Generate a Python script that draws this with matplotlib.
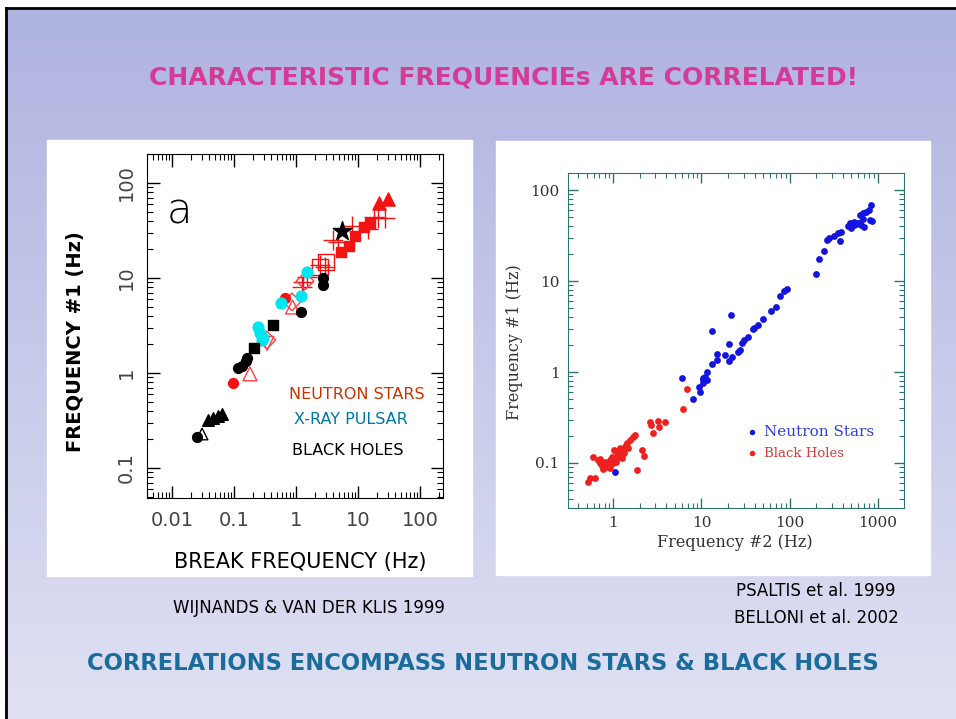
import numpy as np
import matplotlib.pyplot as plt
from matplotlib.patches import Rectangle
from matplotlib.ticker import FixedLocator, FuncFormatter, LogLocator, NullFormatter

W, H = 956, 719  # 그림 크기 (픽셀)

# ---- 왼쪽 그림 데이터 (Wijnands & van der Klis 1999) ----
ns_sq_x = [5.3, 7.2, 9.0, 12.5, 15.6]
ns_sq_y = [18.8, 21.7, 27.7, 34.4, 37.9]
ns_tri_x = [21.8, 30.5]
ns_tri_y = [61.5, 68.0]
ns_cross_x = [18.1, 21.0, 27.2, 14.5, 8.0, 4.75, 3.95, 2.44, 2.94, 1.50, 1.30, 1.25]
ns_cross_y = [43.9, 42.8, 42.8, 33.0, 35.2, 23.9, 25.1, 13.7, 13.1, 10.2, 9.1, 8.0]
ns_osq_x = [2.44, 3.05]
ns_osq_y = [13.1, 14.7]
ns_dot_x = [0.67, 0.096]
ns_dot_y = [6.2, 0.79]
ns_odiam_x = [0.86, 0.34, 1.4]
ns_odiam_y = [5.6, 2.22, 9.3]
ns_otri_x = [0.88, 0.181]
ns_otri_y = [4.95, 0.98]
ns_vtri_x = [0.34]
ns_vtri_y = [2.05]
pulsar_x = [1.50, 1.2, 0.57, 0.244, 0.26, 0.29, 0.28]
pulsar_y = [11.6, 6.5, 5.5, 3.05, 2.64, 2.34, 2.2]
bh_dot_x = [2.72, 2.72, 1.2, 0.116, 0.135, 0.156, 0.162, 0.0253]
bh_dot_y = [10.0, 8.4, 4.4, 1.13, 1.19, 1.34, 1.44, 0.212]
bh_sq_x = [0.425, 0.21]
bh_sq_y = [3.2, 1.83]
bh_tri_x = [0.038, 0.046, 0.055, 0.064]
bh_tri_y = [0.32, 0.336, 0.352, 0.37]
bh_otri_x = [0.0305]
bh_otri_y = [0.228]
bh_star_x = [5.5]
bh_star_y = [31.0]

# ---- 오른쪽 그림 데이터 (Psaltis 1999, Belloni 2002) ----
ns2_x = [832, 790, 731, 676, 676, 855, 811, 624, 593, 534, 534, 493, 456, 481, 562,
         608, 641, 693, 380, 351, 316, 370, 277, 263, 243, 214, 197, 92.4, 85.5, 77,
         69.3, 60.8, 49.3, 43.3, 39, 38, 33.3, 30, 29.2, 27.7, 26.3, 21.9, 20.3, 22.5, 20.8,
         18.3, 15.2, 15.2, 13.3, 13.3, 11.7, 10.3, 11.1, 6.08, 8.11, 9.75, 9.49, 10.3, 10.5,
         11.7, 1.05]
ns2_y = [68.3, 60.3, 57.3, 55.8, 48, 45.6, 46.8, 53.1, 43.4, 44.5, 41.2, 38.2, 40.2, 43.4, 42.3,
         43.4, 41.2, 39.2, 34.5, 33.7, 31.2, 27.6, 29.7, 28.2, 21.4, 17.5, 11.9, 8.17, 7.76, 6.84,
         5.17, 4.68, 3.82, 3.28, 3.05, 2.97, 2.43, 2.25, 2.08, 1.75, 1.66, 4.23, 2.03, 1.46, 1.32,
         1.54, 1.58, 1.36, 2.82, 1.22, 1.0, 0.86, 0.88, 0.86, 0.505, 0.603, 0.684, 0.757, 0.817,
         0.817, 0.0796]
bh2_x = [0.520, 0.548, 0.624, 0.593, 0.676, 0.711, 0.750, 0.769, 0.832, 0.877, 0.925, 0.925,
         1.0, 1.05, 1.11, 1.14, 1.20, 1.27, 1.30, 1.37, 1.44, 1.56, 1.69, 1.78, 1.33, 1.48,
         1.03, 1.17, 1.87, 2.14, 2.25, 2.63, 2.70, 2.85, 3.25, 3.33, 3.90, 6.24, 6.93, 0.81,
         0.97, 1.08, 1.23, 1.40, 0.71]
bh2_y = [0.0618, 0.0684, 0.0684, 0.116, 0.108, 0.100, 0.0927, 0.0859, 0.0903, 0.0951, 0.108,
         0.0881, 0.100, 0.108, 0.122, 0.132, 0.146, 0.113, 0.139, 0.150, 0.166, 0.179, 0.193,
         0.203, 0.129, 0.146, 0.139, 0.116, 0.0838, 0.139, 0.119, 0.282, 0.262, 0.214, 0.290,
         0.249, 0.282, 0.392, 0.650, 0.103, 0.116, 0.103, 0.132, 0.158, 0.112]

left_xticks = [0.01, 0.1, 1, 10, 100]
left_yticks = [0.1, 1, 10, 100]
right_xticks = [1, 10, 100, 1000]
right_yticks = [0.1, 1, 10, 100]


def fig_box(x0, y0, x1, y1):  # 픽셀 좌표 -> figure 비율 [left, bottom, width, height]
    return [x0 / W, 1 - y1 / H, (x1 - x0) / W, (y1 - y0) / H]


fmt = FuncFormatter(lambda v, p: '%g' % v)

fig = plt.figure(figsize=(W / 100, H / 100), dpi=100)
fig.patch.set_facecolor('white')

# ---- 슬라이드 배경 ----
bg = fig.add_axes([0, 0, 1, 1])
grad = np.linspace(0, 1, 256)[:, None, None]
top = np.array([175, 179, 224]) / 255
bot = np.array([223, 225, 243]) / 255
bg.imshow(top + (bot - top) * grad, extent=(6, W, H, 8), aspect='auto')
bg.plot([6, 6], [8, H], color='black', lw=2)
bg.plot([6, W], [8, 8], color='black', lw=2)
bg.add_patch(Rectangle((47, 140), 425, 436, color='white'))
bg.add_patch(Rectangle((496, 141), 434, 434, color='white'))
bg.set_xlim(0, W)
bg.set_ylim(H, 0)
bg.axis('off')

bg.text(504, 77, "CHARACTERISTIC FREQUENCIEs ARE CORRELATED!", ha='center', va='center',
        fontsize=18, fontweight='bold', color='#d43b98')
bg.text(483, 663, "CORRELATIONS ENCOMPASS NEUTRON STARS & BLACK HOLES", ha='center', va='center',
        fontsize=16.3, fontweight='bold', color='#1a6d9b')
bg.text(309, 608, "WIJNANDS & VAN DER KLIS 1999", ha='center', va='center', fontsize=12)
bg.text(816, 591, "PSALTIS et al. 1999", ha='center', va='center', fontsize=12)
bg.text(816, 618, "BELLONI et al. 2002", ha='center', va='center', fontsize=12)

# ---- 왼쪽 그림 ----
ax1 = fig.add_axes(fig_box(147, 154, 443, 498))
ax1.set_xscale('log')
ax1.set_yscale('log')
red = '#f21212'
ax1.scatter(ns_cross_x, ns_cross_y, marker='+', s=200, color=red, linewidths=1, zorder=3)
ax1.scatter(ns_osq_x, ns_osq_y, marker='s', s=130, facecolors='none', edgecolors=red, linewidths=1, zorder=3)
ax1.scatter(ns_odiam_x, ns_odiam_y, marker='D', s=80, facecolors='none', edgecolors='#ff4040', linewidths=1, zorder=3)
ax1.scatter(ns_otri_x, ns_otri_y, marker='^', s=100, facecolors='none', edgecolors='#ff4040', linewidths=1, zorder=3)
ax1.scatter(ns_vtri_x, ns_vtri_y, marker='v', s=100, facecolors='none', edgecolors='#ff4040', linewidths=1, zorder=3)
ax1.scatter(ns_sq_x, ns_sq_y, marker='s', s=50, color=red, zorder=4)
ax1.scatter(ns_tri_x, ns_tri_y, marker='^', s=90, color=red, zorder=4)
ax1.scatter(ns_dot_x, ns_dot_y, marker='o', s=50, color=red, zorder=4)
ax1.scatter(pulsar_x, pulsar_y, marker='o', s=60, color='#00e6f0', zorder=4)
ax1.scatter(bh_dot_x, bh_dot_y, marker='o', s=50, color='black', zorder=4)
ax1.scatter(bh_sq_x, bh_sq_y, marker='s', s=45, color='black', zorder=4)
ax1.scatter(bh_tri_x, bh_tri_y, marker='^', s=70, color='black', zorder=4)
ax1.scatter(bh_otri_x, bh_otri_y, marker='^', s=70, facecolors='none', edgecolors='black', linewidths=1, zorder=4)
ax1.scatter(bh_star_x, bh_star_y, marker='*', s=200, color='black', zorder=5)

ax1.set_xlim(0.00395, 235)
ax1.set_ylim(0.0483, 202)
ax1.xaxis.set_major_locator(FixedLocator(left_xticks))
ax1.yaxis.set_major_locator(FixedLocator(left_yticks))
ax1.xaxis.set_minor_locator(LogLocator(base=10, subs=np.arange(2, 10)))
ax1.yaxis.set_minor_locator(LogLocator(base=10, subs=np.arange(2, 10)))
ax1.xaxis.set_major_formatter(fmt)
ax1.yaxis.set_major_formatter(fmt)
ax1.xaxis.set_minor_formatter(NullFormatter())
ax1.yaxis.set_minor_formatter(NullFormatter())
ax1.tick_params(which='both', direction='in', top=True, right=True, color='black')
ax1.tick_params(which='major', length=9, width=1, labelsize=14, labelcolor='#444444')
ax1.tick_params(which='minor', length=4.5, width=0.8)
ax1.tick_params(axis='x', pad=9)
ax1.tick_params(axis='y', pad=8, labelrotation=90)
for t in ax1.get_yticklabels():
    t.set_va('center')

ax1.set_xlabel("BREAK FREQUENCY (Hz)", fontsize=15, va='center')
ax1.xaxis.set_label_coords(0.517, -0.186)
ax1.set_ylabel("FREQUENCY #1 (Hz)", fontsize=14, fontweight='bold', va='center')
ax1.yaxis.set_label_coords(-0.243, 0.456)

ax1.text(0.111, 0.834, "a", transform=ax1.transAxes, fontsize=30, fontweight='light',
         ha='center', va='center')
ax1.text(0.709, 0.302, "NEUTRON STARS", transform=ax1.transAxes, fontsize=11.5,
         color='#cc3300', ha='center', va='center')
ax1.text(0.689, 0.227, "X-RAY PULSAR", transform=ax1.transAxes, fontsize=11.5,
         color='#0077aa', ha='center', va='center')
ax1.text(0.679, 0.137, "BLACK HOLES", transform=ax1.transAxes, fontsize=11.5,
         color='black', ha='center', va='center')

# ---- 오른쪽 그림 ----
ax2 = fig.add_axes(fig_box(568, 173, 904, 508))
ax2.set_xscale('log')
ax2.set_yscale('log')
h1 = ax2.scatter(ns2_x, ns2_y, s=24, color='#1414e0', linewidths=0, label='Neutron Stars')
h2 = ax2.scatter(bh2_x, bh2_y, s=24, color='#ee2020', linewidths=0, label='Black Holes')
ax2.set_xlim(0.308, 1973)
ax2.set_ylim(0.032, 154)
ax2.xaxis.set_major_locator(FixedLocator(right_xticks))
ax2.yaxis.set_major_locator(FixedLocator(right_yticks))
ax2.xaxis.set_minor_locator(LogLocator(base=10, subs=np.arange(2, 10)))
ax2.yaxis.set_minor_locator(LogLocator(base=10, subs=np.arange(2, 10)))
ax2.xaxis.set_major_formatter(fmt)
ax2.yaxis.set_major_formatter(fmt)
ax2.xaxis.set_minor_formatter(NullFormatter())
ax2.yaxis.set_minor_formatter(NullFormatter())
teal = '#2f7272'
for sp in ax2.spines.values():
    sp.set_color(teal)
ax2.tick_params(which='both', direction='in', top=True, right=True, color=teal)
ax2.tick_params(which='major', length=7, width=1, labelsize=11, labelcolor='#333333', pad=6)
ax2.tick_params(which='minor', length=3.5, width=0.8)
for t in ax2.get_xticklabels() + ax2.get_yticklabels():
    t.set_family('DejaVu Serif')
ax2.set_xlabel("Frequency #2 (Hz)", fontsize=11.5, family='DejaVu Serif', color='#333333', va='center')
ax2.xaxis.set_label_coords(0.497, -0.104)
ax2.set_ylabel("Frequency #1 (Hz)", fontsize=11.5, family='DejaVu Serif', color='#333333', va='center')
ax2.yaxis.set_label_coords(-0.158, 0.496)

leg = ax2.legend(handles=[h1, h2], loc='upper left', bbox_to_anchor=(0.493, 0.29), frameon=False,
                 handlelength=0.6, handletextpad=0.5, markerscale=0.8, labelspacing=0.5,
                 prop={'family': 'DejaVu Serif', 'size': 11})
leg.get_texts()[0].set_color('#3040d8')
leg.get_texts()[1].set_color('#cc4040')
leg.get_texts()[1].set_fontsize(9.5)

fig.savefig('out.png', dpi=100)
